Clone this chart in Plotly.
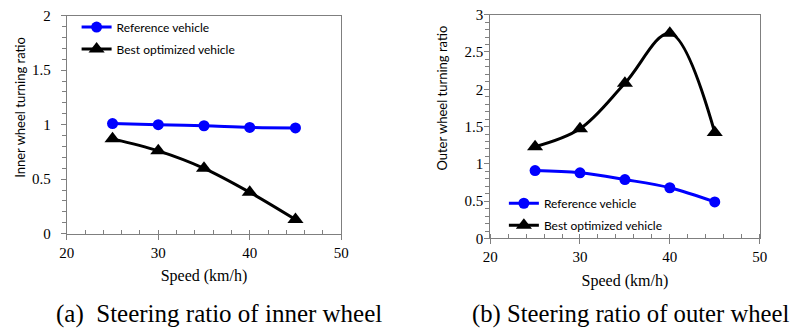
import plotly.graph_objects as go

speed = [25, 30, 35, 40, 45]
inner_ref = [1.01, 1.0, 0.99, 0.975, 0.97]
inner_best = [0.87, 0.76, 0.60, 0.38, 0.13]
outer_ref = [0.91, 0.88, 0.79, 0.68, 0.49]
outer_best = [1.23, 1.47, 2.08, 2.75, 1.42]

BLUE = "#0000FF"
SERIF = "Liberation Serif, Times New Roman, serif"
SANS = "Lato, Liberation Sans, sans-serif"
W, H = 800, 336

def px(v):
    return v / W

def py(v):
    return 1 - v / H

fig = go.Figure()

def add(x, y, name, color, symbol, size, xa, ya, leg):
    fig.add_trace(go.Scatter(
        x=x, y=y, name=name, mode="lines+markers",
        line=dict(color=color, width=3, shape="spline"),
        marker=dict(color=color, symbol=symbol, size=size),
        xaxis=xa, yaxis=ya, legend=leg, showlegend=True))

add(speed, inner_ref, "Reference vehicle", BLUE, "circle", 11, "x", "y", "legend")
add(speed, inner_best, "Best optimized vehicle", "black", "triangle-up", 14, "x", "y", "legend2")
add(speed, outer_ref, "Reference vehicle", BLUE, "circle", 11, "x2", "y2", "legend3")
add(speed, outer_best, "Best optimized vehicle", "black", "triangle-up", 14, "x2", "y2", "legend4")

axis_common = dict(showgrid=False, zeroline=False, showline=True, linecolor="#7f7f7f",
                   linewidth=1, mirror=True, ticks="outside", ticklen=5, tickcolor="#7f7f7f",
                   tickfont=dict(family=SERIF, size=15, color="black"))

xcommon = dict(axis_common, range=[20, 50], dtick=10, tick0=20,
               minor=dict(dtick=2, ticks="inside", ticklen=4, tickcolor="#7f7f7f"),
               title=dict(text="Speed (km/h)", font=dict(family=SERIF, size=16, color="black"), standoff=10))

def leg(xpx, ypx):
    return dict(x=px(xpx), y=py(ypx), xanchor="left", yanchor="middle",
                bgcolor="rgba(0,0,0,0)", font=dict(family=SANS, size=12, color="black"))

fig.update_layout(
    width=W, height=H,
    margin=dict(l=0, r=0, t=0, b=0),
    paper_bgcolor="white", plot_bgcolor="white",
    hovermode=False,
    xaxis=dict(xcommon, domain=[px(60), px(340)], anchor="y"),
    yaxis=dict(axis_common, domain=[py(237), py(8)], range=[0, 2], dtick=0.5, anchor="x",
               ticklabelstandoff=7,
               minor=dict(dtick=0.1, ticks="outside", ticklen=4, tickcolor="#7f7f7f")),
    xaxis2=dict(xcommon, domain=[px(492), px(767)], anchor="y2"),
    yaxis2=dict(axis_common, domain=[py(242), py(7)], range=[0, 3], dtick=0.5, anchor="x2",
                ticklabelstandoff=-2,
                minor=dict(dtick=0.1, ticks="outside", ticklen=4, tickcolor="#7f7f7f")),
    legend=leg(70, 20),
    legend2=leg(70, 43),
    legend3=leg(506, 205),
    legend4=leg(506, 228),
    annotations=[
        dict(text="Inner wheel turning ratio", x=px(12), y=py(104), textangle=-90, showarrow=False,
             xanchor="center", yanchor="middle",
             font=dict(family=SANS, size=13, color="black")),
        dict(text="Outer wheel turning ratio", x=px(443), y=py(95), textangle=-90, showarrow=False,
             xanchor="center", yanchor="middle",
             font=dict(family=SANS, size=13, color="black")),
        dict(text="(a)  Steering ratio of inner wheel", x=px(47), y=py(321), xanchor="left",
             yanchor="middle", showarrow=False, font=dict(family=SERIF, size=25, color="black")),
        dict(text="(b) Steering ratio of outer wheel", x=px(471), y=py(321), xanchor="left",
             yanchor="middle", showarrow=False, font=dict(family=SERIF, size=24.7, color="black")),
    ],
)
for a in fig.layout.annotations:
    a.xref = "paper"
    a.yref = "paper"

fig.write_html("out.html", config={"displayModeBar": False},
               post_script="document.body.style.margin='0';")
